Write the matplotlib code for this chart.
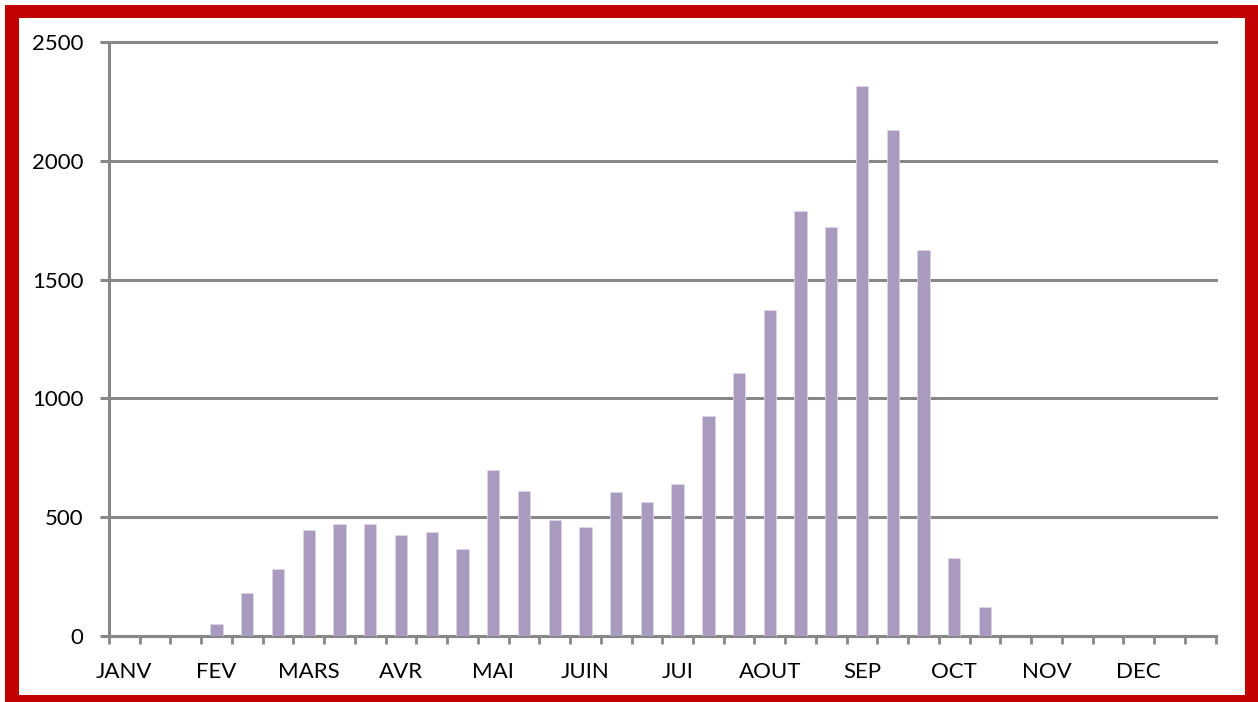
import matplotlib
matplotlib.use("Agg")
import matplotlib.pyplot as plt
from matplotlib.patches import Rectangle

months = ["JANV", "FEV", "MARS", "AVR", "MAI", "JUIN", "JUI", "AOUT", "SEP", "OCT", "NOV", "DEC"]
# 36 periods (3 per month)
values = [0, 0, 0, 50, 180, 281, 445, 471, 471, 424, 438, 368,
          700, 611, 489, 459, 604, 563, 639, 926, 1105, 1373, 1787, 1723,
          2316, 2130, 1626, 327, 124, 0, 0, 0, 0, 0, 0, 0]
yticks = [0, 500, 1000, 1500, 2000, 2500]

W, H = 1258, 702
fig = plt.figure(figsize=(W / 100, H / 100), dpi=100)
fig.patch.set_facecolor("white")
ax = fig.add_axes([109 / W, 1 - 636 / H, (1215.5 - 109) / W, (636 - 42) / H])

grey = "#878787"
bar_color = "#A99BBF"
font = ["Lato", "DejaVu Sans"]

x = list(range(len(values)))
ax.bar(x, values, width=0.4, color=bar_color, edgecolor="#DCD5E6", linewidth=0.6, zorder=3)

ax.set_xlim(-0.5, len(values) - 0.5)
ax.set_ylim(0, 2500)
ax.set_yticks(yticks)
ax.set_yticklabels([str(v) for v in yticks], fontfamily=font, fontsize=16)

# boundary tick marks
ax.set_xticks([i - 0.5 for i in range(len(values) + 1)])
ax.set_xticklabels([])
# month labels every third period
ax.set_xticks([3 * i for i in range(len(months))], minor=True)
ax.set_xticklabels(months, minor=True, fontfamily=font, fontsize=16)
ax.tick_params(axis="x", which="major", direction="out", length=6, width=2, color=grey)
ax.tick_params(axis="x", which="minor", length=0, pad=19)
ax.tick_params(axis="y", direction="out", length=6.5, width=2.2, color=grey, pad=12)

ax.set_axisbelow(True)
ax.yaxis.grid(True, color=grey, linewidth=2.2)
for gl in ax.get_ygridlines():
    gl.set_clip_on(False)
ax.xaxis.grid(False)

for s in ["top", "right"]:
    ax.spines[s].set_visible(False)
for s in ["left", "bottom"]:
    ax.spines[s].set_color(grey)
    ax.spines[s].set_linewidth(2.2)

# red frame
red = "#C00000"
def px_rect(x0, y0, x1, y1):
    fig.patches.append(Rectangle((x0 / W, 1 - y1 / H), (x1 - x0) / W, (y1 - y0) / H,
                                 transform=fig.transFigure, facecolor=red,
                                 edgecolor="none", zorder=10))
px_rect(5, 5, 19, H)
px_rect(5, 5, W, 18)
px_rect(1245, 5, W, H)
px_rect(5, 695, W, H)

fig.savefig("out.png", dpi=100, facecolor="white")
